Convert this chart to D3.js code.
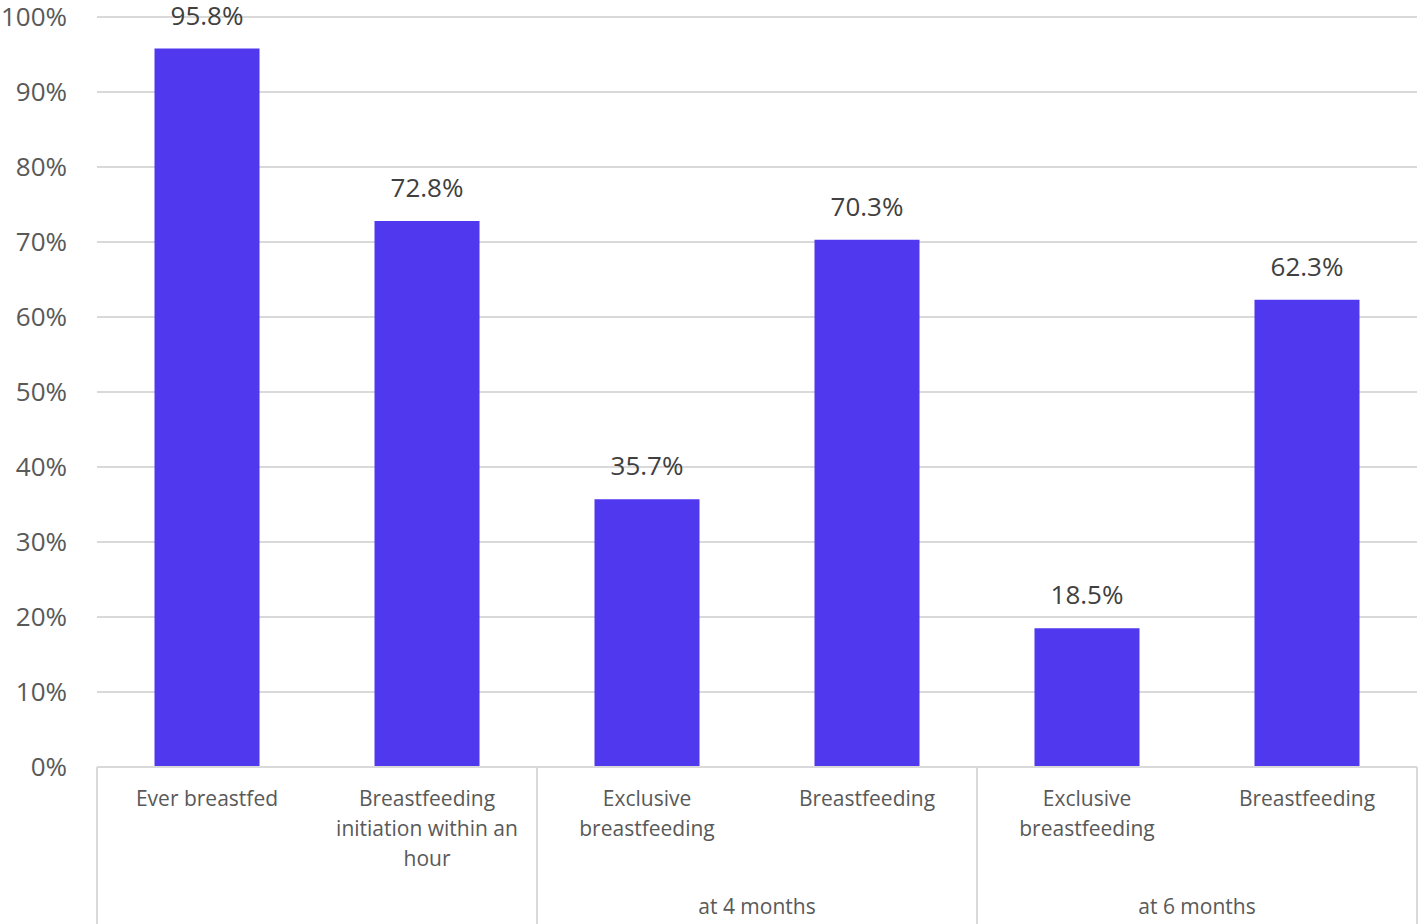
<!DOCTYPE html>
<html><head><meta charset="utf-8">
<script src="https://cdn.jsdelivr.net/npm/d3@7"></script>
<style>html,body{margin:0;padding:0;background:#fff;}svg{display:block;}</style>
</head><body>
<svg id="chart" width="1424" height="924"></svg>
<script>
const categories = ["Ever breastfed", "Breastfeeding initiation within an hour", "Exclusive breastfeeding", "Breastfeeding", "Exclusive breastfeeding", "Breastfeeding"];
const categoryLines = [["Ever breastfed"], ["Breastfeeding", "initiation within an", "hour"], ["Exclusive", "breastfeeding"], ["Breastfeeding"], ["Exclusive", "breastfeeding"], ["Breastfeeding"]];
const values = [95.8, 72.8, 35.7, 70.3, 18.5, 62.3];
const groups = ["", "at 4 months", "at 6 months"];
const groupSizes = [2, 2, 2];
const yTicks = [0, 10, 20, 30, 40, 50, 60, 70, 80, 90, 100];

const svg = d3.select("#chart");
const pL = 97, pR = 1417, pT = 17, pB = 767;
const font = "'Open Sans', Lato, sans-serif";
const x = d3.scaleBand().domain(d3.range(categories.length)).range([pL, pR]).paddingInner(0.5227).paddingOuter(0.2614);
const xOuter = d3.scaleBand().domain(d3.range(categories.length)).range([pL, pR]);
const y = d3.scaleLinear().domain([0, 100]).range([pB, pT]);

// gridlines
svg.append("g").selectAll("line").data(yTicks.filter(d => d > 0)).join("line")
  .attr("x1", pL).attr("x2", pR).attr("y1", d => y(d)).attr("y2", d => y(d))
  .attr("stroke", "#d9d9d9").attr("stroke-width", 2);

// y labels
svg.append("g").selectAll("text").data(yTicks).join("text")
  .attr("x", 67).attr("y", d => y(d)).attr("dy", "0.35em").attr("text-anchor", "end")
  .attr("font-family", font).attr("font-size", 26).attr("fill", "#595959")
  .text(d => d + "%");

// bars
svg.append("g").selectAll("rect").data(values).join("rect")
  .attr("x", (d, i) => x(i)).attr("width", x.bandwidth())
  .attr("y", d => y(d)).attr("height", d => y(0) - y(d))
  .attr("fill", "#5038EE");

// value labels
svg.append("g").selectAll("text").data(values).join("text")
  .attr("x", (d, i) => x(i) + x.bandwidth() / 2).attr("y", d => y(d) - 24)
  .attr("text-anchor", "middle").attr("font-family", font).attr("font-size", 26).attr("fill", "#404040")
  .text(d => d.toFixed(1) + "%");

// axis line
svg.append("line").attr("x1", pL).attr("x2", pR).attr("y1", pB).attr("y2", pB)
  .attr("stroke", "#d9d9d9").attr("stroke-width", 2);

// group separators
let idx = 0;
const bounds = [0];
groupSizes.forEach(s => { idx += s; bounds.push(idx); });
svg.append("g").selectAll("line").data(bounds).join("line")
  .attr("x1", d => d < categories.length ? xOuter(d) : pR)
  .attr("x2", d => d < categories.length ? xOuter(d) : pR)
  .attr("y1", pB).attr("y2", 924)
  .attr("stroke", "#d9d9d9").attr("stroke-width", 2);

// category labels
categoryLines.forEach((lines, i) => {
  const t = svg.append("text").attr("text-anchor", "middle").attr("font-family", font)
    .attr("font-size", 21).attr("fill", "#595959");
  lines.forEach((l, j) => {
    t.append("tspan").attr("x", xOuter(i) + xOuter.bandwidth() / 2).attr("y", 806 + j * 30).text(l);
  });
});

// group labels
groups.forEach((g, k) => {
  const cx = (xOuter(bounds[k]) + (bounds[k + 1] < categories.length ? xOuter(bounds[k + 1]) : pR)) / 2;
  svg.append("text").attr("x", cx).attr("y", 914).attr("text-anchor", "middle")
    .attr("font-family", font).attr("font-size", 21).attr("fill", "#595959").text(g);
});
</script>
</body></html>
